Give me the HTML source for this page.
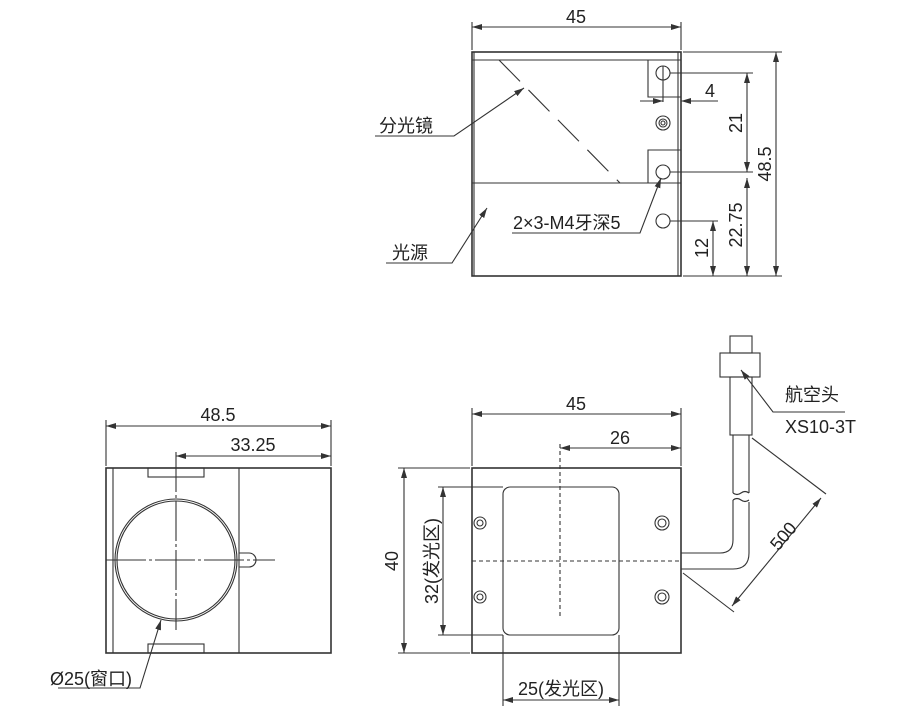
<!DOCTYPE html>
<html><head><meta charset="utf-8"><style>
html,body{margin:0;padding:0;background:#fff;}
svg{display:block;}
text{font-family:"Liberation Sans","Noto Sans CJK SC",sans-serif;fill:#222;}
</style></head><body>
<svg width="919" height="726" viewBox="0 0 919 726" xmlns="http://www.w3.org/2000/svg">
<defs>
<marker id="a" viewBox="0 0 10 6" refX="10" refY="3" markerWidth="10" markerHeight="6" orient="auto-start-reverse" markerUnits="userSpaceOnUse"><path d="M0,0 L10,3 L0,6 z" fill="#333"/></marker>
</defs>
<g stroke="#333" stroke-width="1.1" fill="none">
<rect x="472" y="52" width="209" height="224" stroke-width="1.6"/>
<line x1="474" y1="52" x2="474" y2="276"/>
<line x1="678" y1="52" x2="678" y2="276"/>
<line x1="472" y1="60" x2="681" y2="60"/>
<line x1="472" y1="183" x2="681" y2="183"/>
<line x1="499" y1="60" x2="620" y2="183" stroke-dasharray="30,12"/>
<polyline points="681,60 648,60 648,97 681,97"/>
<polyline points="681,150 648,150 648,183"/>
<circle cx="663" cy="73" r="7"/><circle cx="663" cy="172" r="7"/><circle cx="663" cy="221" r="7"/>
<circle cx="663" cy="123" r="7"/><circle cx="663" cy="123" r="4"/><circle cx="663" cy="123" r="2"/>
<line x1="472" y1="22" x2="472" y2="50"/><line x1="681" y1="22" x2="681" y2="50"/>
<line x1="472" y1="27" x2="681" y2="27" marker-start="url(#a)" marker-end="url(#a)"/>
<line x1="663" y1="66" x2="663" y2="102"/>
<line x1="640" y1="101" x2="663" y2="101" marker-end="url(#a)"/>
<line x1="718" y1="101" x2="681" y2="101" marker-end="url(#a)"/>
<line x1="670" y1="73" x2="753" y2="73"/>
<line x1="670" y1="172" x2="753" y2="172"/>
<line x1="670" y1="221" x2="718" y2="221"/>
<line x1="683" y1="52" x2="782" y2="52"/>
<line x1="683" y1="276" x2="782" y2="276"/>
<line x1="747" y1="73" x2="747" y2="172" marker-start="url(#a)" marker-end="url(#a)"/>
<line x1="747" y1="178" x2="747" y2="276" marker-start="url(#a)" marker-end="url(#a)"/>
<line x1="713" y1="221" x2="713" y2="276" marker-start="url(#a)" marker-end="url(#a)"/>
<line x1="776" y1="52" x2="776" y2="276" marker-start="url(#a)" marker-end="url(#a)"/>
<polyline points="375,136 454,136 524,88" marker-end="url(#a)"/>
<polyline points="386,263 452,263 487,208" marker-end="url(#a)"/>
<polyline points="512,233 640,233 661,178" marker-end="url(#a)"/>
<rect x="106" y="468" width="225" height="185" stroke-width="1.6"/>
<line x1="113" y1="468" x2="113" y2="653"/>
<line x1="239" y1="468" x2="239" y2="653"/>
<rect x="148" y="468" width="56" height="9"/>
<rect x="148" y="644" width="56" height="9"/>
<circle cx="176" cy="560" r="61"/><circle cx="176" cy="560" r="59"/>
<path d="M239,553 h10 a7,7 0 0 1 0,14 h-10"/>
<line x1="176" y1="452" x2="176" y2="630" stroke-dasharray="40,3,3,3"/>
<line x1="106" y1="560" x2="275" y2="560" stroke-dasharray="40,3,3,3"/>
<line x1="106" y1="420" x2="106" y2="466"/><line x1="331" y1="420" x2="331" y2="466"/>
<line x1="106" y1="426" x2="331" y2="426" marker-start="url(#a)" marker-end="url(#a)"/>
<line x1="176" y1="456" x2="331" y2="456" marker-start="url(#a)" marker-end="url(#a)"/>
<polyline points="58,688 140,688 161,620" marker-end="url(#a)"/>
<rect x="472" y="468" width="209" height="185" stroke-width="1.6"/>
<rect x="503" y="487" width="116" height="148" rx="7"/>
<circle cx="480" cy="523" r="6"/><circle cx="480" cy="523" r="3"/>
<circle cx="480" cy="597" r="6"/><circle cx="480" cy="597" r="3"/>
<circle cx="662" cy="523" r="7"/><circle cx="662" cy="523" r="4"/>
<circle cx="662" cy="597" r="7"/><circle cx="662" cy="597" r="4"/>
<line x1="472" y1="561" x2="681" y2="561" stroke-dasharray="4,3"/>
<line x1="560" y1="444" x2="560" y2="617" stroke-dasharray="4,3"/>
<line x1="472" y1="408" x2="472" y2="466"/><line x1="681" y1="408" x2="681" y2="466"/>
<line x1="472" y1="414" x2="681" y2="414" marker-start="url(#a)" marker-end="url(#a)"/>
<line x1="560" y1="448" x2="681" y2="448" marker-start="url(#a)" marker-end="url(#a)"/>
<line x1="398" y1="468" x2="470" y2="468"/><line x1="398" y1="653" x2="470" y2="653"/>
<line x1="404" y1="468" x2="404" y2="653" marker-start="url(#a)" marker-end="url(#a)"/>
<line x1="438" y1="487" x2="503" y2="487"/><line x1="438" y1="635" x2="503" y2="635"/>
<line x1="443" y1="487" x2="443" y2="635" marker-start="url(#a)" marker-end="url(#a)"/>
<line x1="503" y1="635" x2="503" y2="706"/><line x1="619" y1="635" x2="619" y2="706"/>
<line x1="503" y1="700" x2="619" y2="700" marker-start="url(#a)" marker-end="url(#a)"/>
<path d="M681,553 H720 Q733,553 733,540 V500"/>
<path d="M681,569 H733 Q749,569 749,553 V502"/>
<path d="M733,493 V435 M749,493 V435"/>
<path d="M733,493 q4,3 8,0 q4,-3 8,0 M733,500 q4,-3 8,0 q4,3 8,0"/>
<rect x="730" y="336" width="22" height="17"/>
<rect x="720" y="353" width="40" height="24"/>
<rect x="730" y="377" width="22" height="58"/>
<polyline points="845,412 773,412 741,370" marker-end="url(#a)"/>
<line x1="752" y1="438" x2="826" y2="494"/>
<line x1="683" y1="573" x2="734" y2="612"/>
<line x1="821" y1="498" x2="732" y2="606" marker-start="url(#a)" marker-end="url(#a)"/>
</g>
<g font-size="18">
<text x="576" y="23" text-anchor="middle">45</text>
<text x="705" y="97">4</text>
<text x="742" y="123" text-anchor="middle" transform="rotate(-90 742 123)">21</text>
<text x="742" y="225" text-anchor="middle" transform="rotate(-90 742 225)">22.75</text>
<text x="708" y="248" text-anchor="middle" transform="rotate(-90 708 248)">12</text>
<text x="771" y="164" text-anchor="middle" transform="rotate(-90 771 164)">48.5</text>
<text x="379" y="132">分光镜</text>
<text x="392" y="259">光源</text>
<text x="513" y="229">2×3-M4牙深5</text>
<text x="218" y="421" text-anchor="middle">48.5</text>
<text x="253" y="451" text-anchor="middle">33.25</text>
<text x="50" y="685">Ø25(窗口)</text>
<text x="576" y="410" text-anchor="middle">45</text>
<text x="620" y="444" text-anchor="middle">26</text>
<text x="398" y="561" text-anchor="middle" transform="rotate(-90 398 561)">40</text>
<text x="438" y="561" text-anchor="middle" transform="rotate(-90 438 561)">32(发光区)</text>
<text x="561" y="695" text-anchor="middle">25(发光区)</text>
<text x="785" y="401">航空头</text>
<text x="785" y="433">XS10-3T</text>
<text x="788" y="540" text-anchor="middle" transform="rotate(-50 788 540)">500</text>
</g>
</svg>
</body></html>
